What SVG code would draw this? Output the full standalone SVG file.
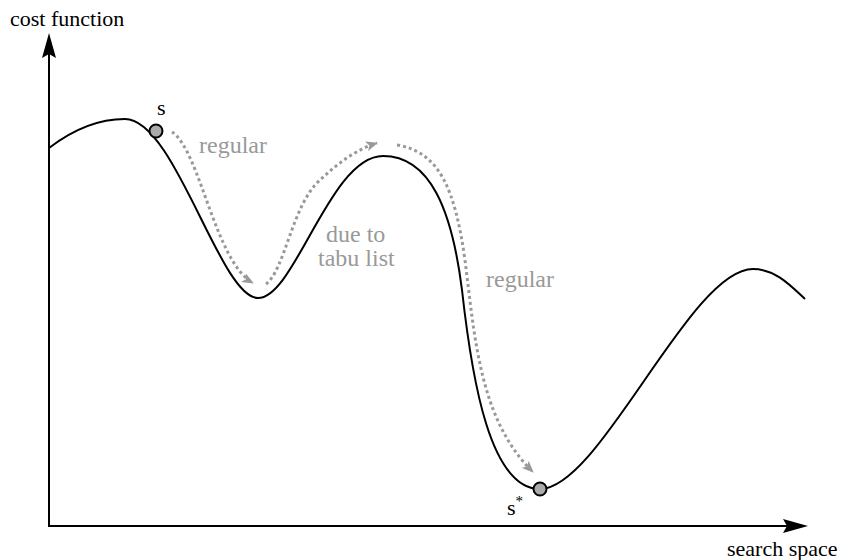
<svg xmlns="http://www.w3.org/2000/svg" width="843" height="560" viewBox="0 0 843 560">
<style>
.lbl{font-family:"Liberation Serif","Times New Roman",serif;font-size:22px;fill:#000}
.gl{font-family:"Liberation Serif","Times New Roman",serif;font-size:24px;fill:#999}
.dot{fill:none;stroke:#999;stroke-width:3;stroke-dasharray:3 3}
.pt{fill:#aaa;stroke:#000;stroke-width:2}
</style>
<defs>
<marker id="ga" viewBox="0 0 12 10" refX="11" refY="5" markerWidth="12" markerHeight="10" markerUnits="userSpaceOnUse" orient="auto">
<path d="M0,0 L12,5 L0,10 L3,5 Z" fill="#999"/>
</marker>
</defs>
<g id="axes">
<line x1="49" y1="527" x2="49" y2="50" stroke="#000" stroke-width="2"/>
<path d="M49,33 L56,58 L49,54 L42,58 Z" fill="#000"/>
<line x1="48" y1="526" x2="790" y2="526" stroke="#000" stroke-width="2"/>
<path d="M808,526 L783,519 L787,526 L783,533 Z" fill="#000"/>
<text class="lbl" x="10" y="26">cost function</text>
<text class="lbl" x="727" y="556">search space</text>
</g>
<g id="curve">
<path d="M49,148 C75,128 100,119 125,119 C175,119 220,298 258,298 C295,298 330,156 383,156 C430,156 452,210 462,290 C472,380 490,489 540,489 C600,489 690,269 753,269 C775,269 790,285 805,299" fill="none" stroke="#000" stroke-width="2"/>
</g>
<g id="connectors">
<path class="dot" d="M172,132 C200,150 215,262 253,283" marker-end="url(#ga)"/>
<path class="dot" d="M266,284 C285,270 292,205 320,180 C337,164 355,150 377,143" marker-end="url(#ga)"/>
<path class="dot" d="M397,145 C440,152 455,190 465,260 C475,340 480,420 533,472" marker-end="url(#ga)"/>
</g>
<g id="s">
<circle class="pt" cx="156" cy="131" r="6.5"/>
<text class="lbl" x="157" y="115">s</text>
</g>
<g id="sstar">
<circle class="pt" cx="540" cy="489" r="6.5"/>
<text class="lbl" x="507" y="515">s<tspan font-size="15" dy="-9" fill="#000">*</tspan></text>
</g>
<g id="labels">
<text class="gl" x="199" y="153">regular</text>
<text class="gl" x="326" y="242">due to</text>
<text class="gl" x="318" y="266">tabu list</text>
<text class="gl" x="486" y="287">regular</text>
</g>
</svg>
